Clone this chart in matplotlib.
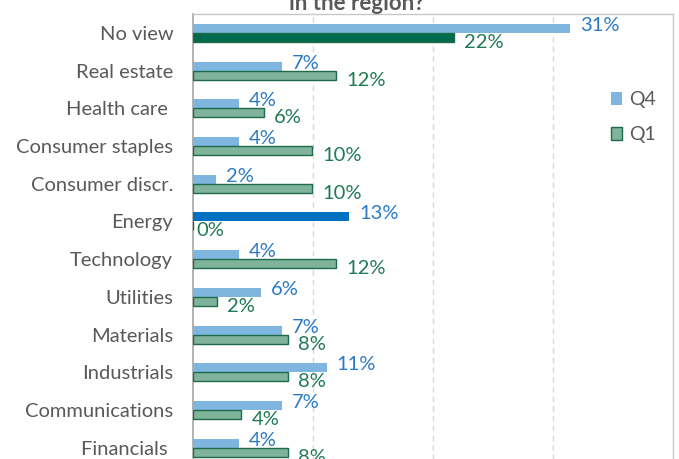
import matplotlib
matplotlib.use("Agg")
import matplotlib.pyplot as plt
from matplotlib.patches import Patch

plt.rcParams['font.family'] = ['Lato', 'DejaVu Sans']

# data (percent of respondents)
categories = ["No view", "Real estate", "Health care ", "Consumer staples",
              "Consumer discr.", "Energy", "Technology", "Utilities",
              "Materials", "Industrials", "Communications", "Financials "]
q4 = [31.4, 7.4, 3.8, 3.8, 1.9, 13.0, 3.8, 5.6, 7.4, 11.1, 7.4, 3.8]
q1 = [21.7, 11.9, 5.9, 9.9, 9.9, 0.0, 11.9, 2.0, 7.9, 7.9, 4.0, 7.9]
series_names = ["Q4", "Q1"]

# colours
q4_col = "#7fb6e0"
q4_hi = "#0070c0"       # Energy highlight
q1_col = "#80b39b"
q1_edge = "#1d6b4a"
q1_hi = "#006a4e"       # No view highlight
q4_txt = "#2b7bc4"
q1_txt = "#1f7a55"
grey = "#595959"

W, H = 679, 459
fig = plt.figure(figsize=(W / 100, H / 100), dpi=100)
# plot area: x 193..673 px, y 14..466 px (bottom runs past the image)
ax = fig.add_axes([193.3 / W, 1 - 466.6 / H, 480 / W, 452.6 / H])

n = len(categories)
ys = list(range(n))
bh = 0.24

q4_colors = [q4_hi if c == "Energy" else q4_col for c in categories]
q1_colors = [q1_hi if c == "No view" else q1_col for c in categories]

ax.barh([y - bh / 2 for y in ys], q4, height=bh, color=q4_colors,
        edgecolor="none", zorder=3)
ax.barh([y + bh / 2 for y in ys], q1, height=bh, color=q1_colors,
        edgecolor=q1_edge, linewidth=1.0, zorder=3)

# value labels
for y, v in zip(ys, q4):
    ax.annotate("%d%%" % round(v), (v, y - bh / 2), xytext=(10, 3),
                textcoords="offset pixels", ha="left", va="center",
                fontsize=14.5, color=q4_txt, zorder=4)
for y, v in zip(ys, q1):
    dx = 10 if v > 0 else 3
    ax.annotate("%d%%" % round(v), (v, y + bh / 2), xytext=(dx, -5),
                textcoords="offset pixels", ha="left", va="center",
                fontsize=14.5, color=q1_txt, zorder=4)

ax.set_xlim(0, 40)
ax.set_ylim(n - 0.5, -0.5)
ax.set_xticks([10, 20, 30])
ax.set_xticklabels([])
ax.tick_params(axis="x", length=0)
ax.grid(axis="x", color="#d9d9d9", linestyle=(0, (4, 3)), linewidth=1, zorder=0)

ax.set_yticks(ys)
ax.set_yticklabels(categories, fontsize=14.5, color=grey)
ax.tick_params(axis="y", length=0, pad=14.5)

ax.spines["left"].set_color("#a6a6a6")
ax.spines["left"].set_linewidth(1.2)
for s in ["top", "right", "bottom"]:
    ax.spines[s].set_color("#c8c8c8")
    ax.spines[s].set_linewidth(1.0)

handles = [Patch(facecolor=q4_col, edgecolor="none"),
           Patch(facecolor=q1_col, edgecolor=q1_edge, linewidth=1.0)]
fig.legend(handles, series_names, loc="upper left",
           bbox_to_anchor=(593 / W, 1 - 74 / H), frameon=False,
           fontsize=14, labelcolor=grey, handlelength=0.6,
           handleheight=0.6, handletextpad=0.35, labelspacing=0.92)

fig.text(357 / W, 1 - 9.5 / H, "in the region?", ha="center", va="baseline",
         fontsize=16, fontweight="bold", color=grey)

fig.savefig("out.png", dpi=100)
